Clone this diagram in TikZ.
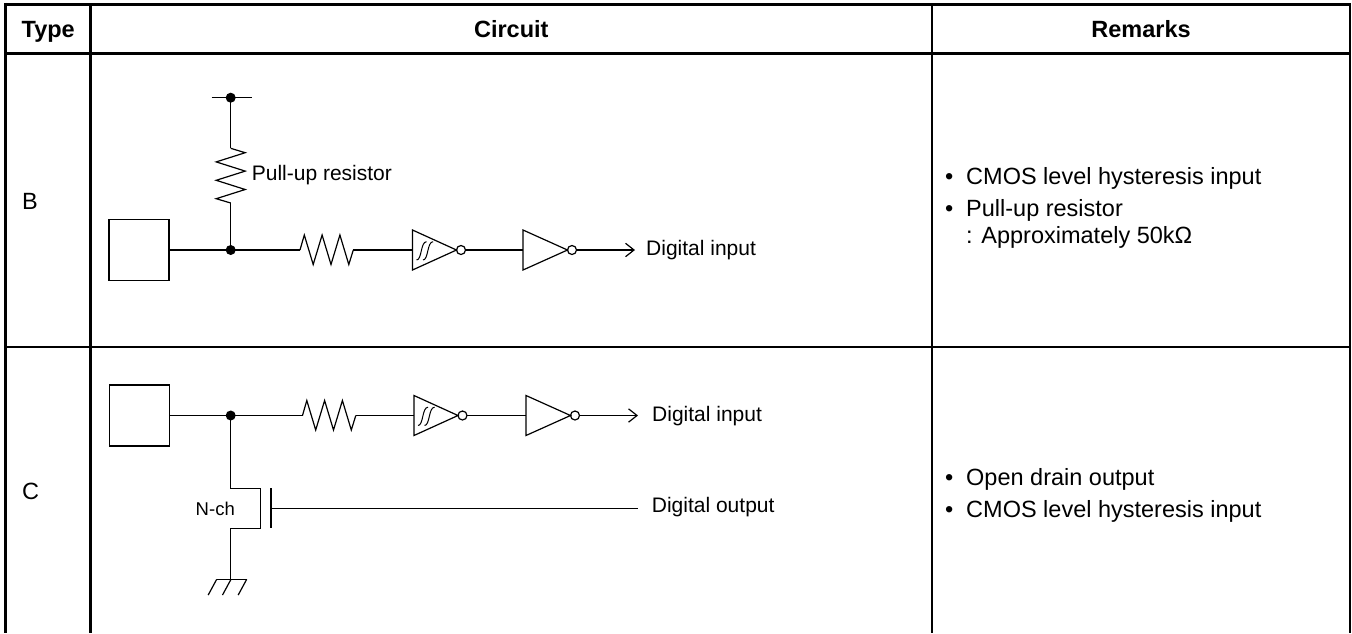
\documentclass[tikz,border=0pt]{standalone}
\usepackage{fontspec}
\setmainfont{Liberation Sans}
\usetikzlibrary{arrows.meta}
\begin{document}
\begin{tikzpicture}[x=1pt,y=-1pt,
  tbl/.style={line width=2.8pt},
  wire/.style={line width=1.2pt, line join=miter},
  dotnode/.style={circle, fill=black, inner sep=0pt, minimum size=10pt},
  padbox/.style={draw, line width=1.2pt, minimum width=60pt, minimum height=61pt, inner sep=0pt},
  hdr/.style={font={\fontsize{23.5}{28}\selectfont\bfseries}, inner sep=0pt, anchor=base},
  cell/.style={font={\fontsize{23.5}{28}\selectfont}, inner sep=0pt, anchor=base west},
  lbl/.style={font={\fontsize{21}{25}\selectfont}, inner sep=0pt, anchor=base west},
  small/.style={font={\fontsize{18.5}{22}\selectfont}, inner sep=0pt, anchor=base east},
  barb/.style={-{Straight Barb[length=8.5pt,width=13.4pt,line width=1.2pt]}},
  pics/hres/.style={code={
    \draw[wire] (0,0) -- (4.3,-15) -- (13.2,14.5) -- (22.1,-15) -- (31,14.5)
      -- (39.9,-15) -- (48.8,14.5) -- (53.3,0);
  }},
  pics/vres/.style={code={
    \draw[wire] (0,0) -- (14.5,4.4) -- (-14.5,13.6) -- (14.5,22.8) -- (-14.5,32)
      -- (14.5,41.2) -- (-14.5,50.4) -- (0,54.7);
  }},
  pics/schmitt/.style={code={
    \draw[wire] (0,-20) -- (44,0) -- (0,20) -- cycle;
    \draw[wire] (48.5,0) circle[radius=4.5];
    \draw[line width=1pt] (4,10) .. controls (9.5,10) and (8,-8.3) .. (14,-8.3);
    \draw[line width=1pt] (10.5,10) .. controls (16,10) and (14.5,-8.3) .. (20.6,-8.3);
  }},
  pics/inverter/.style={code={
    \draw[wire] (0,-20) -- (44.5,0) -- (0,20) -- cycle;
    \draw[wire] (49,0) circle[radius=4.5];
  }},
  pics/gnd/.style={code={
    \draw[wire] (-14,0) -- (16,0);
    \draw[wire] (-14,0) -- (-22.5,15.7);
    \draw[wire] (0.3,0) -- (-8.2,15.7);
    \draw[wire] (16,0) -- (7.5,15.7);
  }}
]
\useasboundingbox (0,0) rectangle (1352,633);

% ---------- table ----------
\draw[tbl] (4.3,4.2) -- (1351.4,4.2);
\draw[tbl] (5.7,2.8) -- (5.7,633);
\draw[tbl] (1350,2.8) -- (1350,633);
\draw[tbl] (5.7,53.7) -- (1350,53.7);
\draw[tbl] (5.7,347) -- (1350,347);
\draw[tbl] (90.7,4.2) -- (90.7,633);
\draw[tbl] (932,4.2) -- (932,633);

\node[hdr] (hType) at (48.2,37) {Type};
\node[hdr] (hCirc) at (511.3,37) {Circuit};
\node[hdr] (hRem) at (1141,37) {Remarks};

\node[cell] (tB) at (22,209.5) {B};
\node[cell] (tC) at (22,499.5) {C};

% ---------- row B circuit ----------
\node[padbox] (boxB) at (139,250) {};
\coordinate (jB) at (230.7,250);
\coordinate (vddB) at (230.7,97.7);
\coordinate (vddL) at (211.7,97.7);
\coordinate (vddR) at (252.3,97.7);
\coordinate (puTop) at (230.7,148.3);
\coordinate (puBot) at (230.7,203);
\coordinate (rB1) at (300,250);
\coordinate (rB2) at (353.3,250);
\coordinate (sB) at (412.5,250);
\coordinate (sBo) at (456,250);
\coordinate (iB) at (523,250);
\coordinate (iBo) at (567,250);
\coordinate (aB) at (635,250);

\draw[wire] (vddL) -- (vddR);
\draw[wire] (vddB) -- (puTop);
\pic at (puTop) {vres};
\draw[wire] (puBot) -- (jB);
\draw[wire] (boxB.east) -- (jB) -- (rB1);
\pic at (rB1) {hres};
\draw[wire] (rB2) -- (sB);
\pic at (sB) {schmitt};
\draw[wire] ([xshift=53pt]sB) -- (iB);
\pic at (iB) {inverter};
\draw[wire,barb] ([xshift=53.5pt]iB) -- (aB);
\node[dotnode] (dB1) at (vddB) {};
\node[dotnode] (dB2) at (jB) {};

\node[lbl] (lPU) at (251.7,180) {Pull-up resistor};
\node[lbl] (lDIB) at (646,255) {Digital input};

% ---------- row C circuit ----------
\node[padbox] (boxC) at (139.5,415.5) {};
\coordinate (jC) at (230.7,415.5);
\coordinate (rC1) at (302.5,415.5);
\coordinate (rC2) at (355.8,415.5);
\coordinate (sC) at (414,415.5);
\coordinate (iC) at (526,415.5);
\coordinate (aC) at (638,415.5);
\coordinate (d1) at (230.7,488.3);
\coordinate (d2) at (260.7,488.3);
\coordinate (s2) at (260.7,528.3);
\coordinate (s1) at (230.7,528.3);
\coordinate (gndC) at (230.7,579.3);
\coordinate (gp1) at (271,488.3);
\coordinate (gp2) at (271,528.3);
\coordinate (gIn) at (271,508.5);
\coordinate (gEnd) at (638,508.5);

\draw[wire] (boxC.east) -- (jC) -- (rC1);
\pic at (rC1) {hres};
\draw[wire] (rC2) -- (sC);
\pic at (sC) {schmitt};
\draw[wire] ([xshift=53pt]sC) -- (iC);
\pic at (iC) {inverter};
\draw[wire,barb] ([xshift=53.5pt]iC) -- (aC);
\draw[wire] (jC) -- (d1) -- (d2) -- (s2) -- (s1) -- (gndC);
\draw[wire] (gp1) -- (gp2);
\draw[wire] (gIn) -- (gEnd);
\pic at (gndC) {gnd};
\node[dotnode] (dC) at (jC) {};

\node[lbl] (lDIC) at (652,421.7) {Digital input};
\node[lbl] (lDOC) at (651.7,512.5) {Digital output};
\node[small] (lN) at (235,515.7) {N-ch};

% ---------- remarks ----------
\node[cell] (bB1) at (945,184.5) {•};
\node[cell] (rmB1) at (966,184.5) {CMOS level hysteresis input};
\node[cell] (bB2) at (945,216) {•};
\node[cell] (rmB2) at (966,216) {Pull-up resistor};
\node[cell] (rmB3) at (966,243) {: Approximately 50kΩ};

\node[cell] (bC1) at (945,485.7) {•};
\node[cell] (rmC1) at (966,485.7) {Open drain output};
\node[cell] (bC2) at (945,517.3) {•};
\node[cell] (rmC2) at (966,517.3) {CMOS level hysteresis input};
\end{tikzpicture}
\end{document}
